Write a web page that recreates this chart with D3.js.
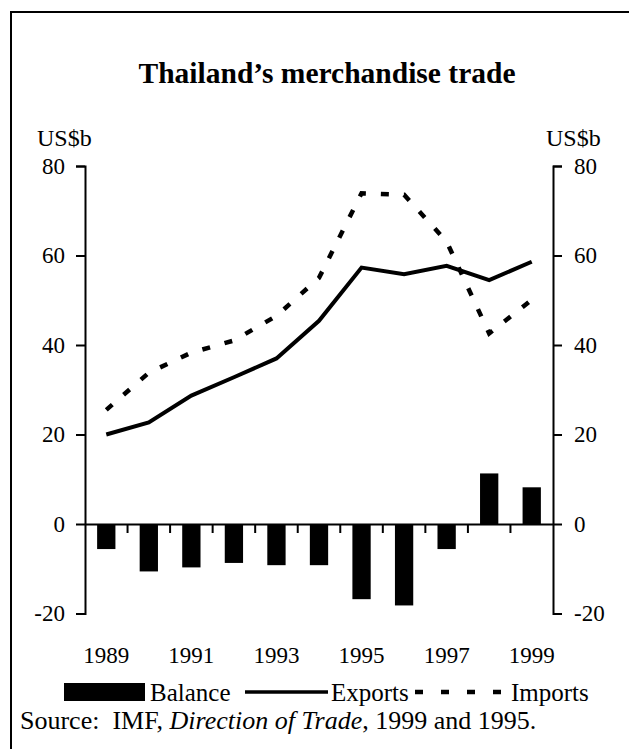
<!DOCTYPE html>
<html>
<head>
<meta charset="utf-8">
<script src="https://cdn.jsdelivr.net/npm/d3@7"></script>
<style>
  html, body { margin: 0; padding: 0; background: #fff; }
  svg { display: block; font-family: "Liberation Serif", "Times New Roman", serif; }
</style>
</head>
<body>
<svg id="chart" width="629" height="749"></svg>
<script>
// ---- data ----
const years = [1989, 1990, 1991, 1992, 1993, 1994, 1995, 1996, 1997, 1998, 1999];
const exportsVals = [20.0, 22.7, 28.7, 32.8, 37.0, 45.4, 57.3, 55.8, 57.7, 54.5, 58.6];
const importsVals = [25.5, 33.8, 38.3, 41.0, 46.5, 55.0, 73.9, 73.6, 63.1, 42.6, 50.1];
const balanceVals = [-5.6, -10.6, -9.7, -8.7, -9.2, -9.2, -16.8, -18.2, -5.6, 11.3, 8.2];
const yTicks = [-20, 0, 20, 40, 60, 80];
const xTickLabels = [1989, 1991, 1993, 1995, 1997, 1999];
const title = "Thailand\u2019s merchandise trade";
const unitLabel = "US$b";
const legendLabels = ["Balance", "Exports", "Imports"];

// ---- layout ----
const svg = d3.select("#chart");
const x0 = 85, x1 = 553;
const x = d3.scaleBand().domain(years).range([x0, x1]).padding(0);
const y = d3.scaleLinear().domain([-20, 80]).range([613.5, 166]);
const barW = x.bandwidth() * 0.43;
const serif = "'Liberation Serif', 'Times New Roman', serif";

// border
svg.append("path")
  .attr("d", "M11,760 L11,12 L640,12")
  .attr("fill", "none").attr("stroke", "#000").attr("stroke-width", 2);

// title
svg.append("text").attr("x", 327).attr("y", 83)
  .attr("text-anchor", "middle").attr("font-weight", "bold")
  .attr("font-size", 29.5).text(title);

// unit labels
svg.append("text").attr("x", 37).attr("y", 146).attr("font-size", 24).text(unitLabel);
svg.append("text").attr("x", 546).attr("y", 146).attr("font-size", 24).text(unitLabel);

// bars
svg.append("g").selectAll("rect").data(years).join("rect")
  .attr("x", (d) => x(d) + x.bandwidth() / 2 - barW / 2)
  .attr("width", barW)
  .attr("y", (d, i) => Math.min(y(0), y(balanceVals[i])))
  .attr("height", (d, i) => Math.abs(y(balanceVals[i]) - y(0)))
  .attr("fill", "#000");

// left axis
const fmt = d => String(d);
const leftAxis = d3.axisLeft(y).tickValues(yTicks).tickSize(9).tickPadding(11).tickFormat(fmt);
const gl = svg.append("g").attr("transform", `translate(${x0},0)`).call(leftAxis);
// right axis
const rightAxis = d3.axisRight(y).tickValues(yTicks).tickSize(9).tickPadding(12).tickFormat(fmt);
const gr = svg.append("g").attr("transform", `translate(${x1},0)`).call(rightAxis);
[gl, gr].forEach(g => {
  g.attr("font-family", serif);
  g.select(".domain").attr("stroke", "#000").attr("stroke-width", 2);
  g.selectAll(".tick line").attr("stroke", "#000").attr("stroke-width", 2);
  g.selectAll(".tick text").attr("font-size", 23).attr("fill", "#000");
});

// zero line with category boundary ticks
const xAxis = d3.axisBottom(x).tickValues([]).tickSizeOuter(0);
const gx = svg.append("g").attr("transform", `translate(0,${y(0)})`).call(xAxis);
gx.select(".domain").attr("stroke", "#000").attr("stroke-width", 2);
gx.selectAll("line.bt").data(years.slice(1)).join("line").attr("class", "bt")
  .attr("x1", d => x(d)).attr("x2", d => x(d))
  .attr("y1", 0).attr("y2", 9)
  .attr("stroke", "#000").attr("stroke-width", 2);

// x labels
svg.append("g").selectAll("text").data(xTickLabels).join("text")
  .attr("x", d => x(d) + x.bandwidth() / 2)
  .attr("y", 663).attr("text-anchor", "middle").attr("font-size", 23)
  .text(d => d);

// lines
const line = d3.line().x((d, i) => x(years[i]) + x.bandwidth() / 2).y(d => y(d));
svg.append("path").datum(exportsVals).attr("d", line)
  .attr("fill", "none").attr("stroke", "#000").attr("stroke-width", 4)
  .attr("stroke-linejoin", "miter");
svg.append("path").datum(importsVals).attr("d", line)
  .attr("fill", "none").attr("stroke", "#000").attr("stroke-width", 4.5)
  .attr("stroke-dasharray", "8,15").attr("stroke-linejoin", "miter");

// legend
const lg = svg.append("g").attr("font-size", 25);
lg.append("rect").attr("x", 64).attr("y", 683).attr("width", 81).attr("height", 18).attr("fill", "#000");
lg.append("text").attr("x", 150).attr("y", 701).text(legendLabels[0]);
lg.append("line").attr("x1", 245).attr("x2", 328).attr("y1", 692).attr("y2", 692)
  .attr("stroke", "#000").attr("stroke-width", 3.5);
lg.append("text").attr("x", 331).attr("y", 701).text(legendLabels[1]);
lg.append("line").attr("x1", 415).attr("x2", 503).attr("y1", 692).attr("y2", 692)
  .attr("stroke", "#000").attr("stroke-width", 4.5).attr("stroke-dasharray", "8,18");
lg.append("text").attr("x", 511).attr("y", 701).text(legendLabels[2]);

// source
const src = svg.append("text").attr("x", 20).attr("y", 729).attr("font-size", 26);
src.append("tspan").text("Source:\u00a0\u00a0IMF, ");
src.append("tspan").attr("font-style", "italic").text("Direction of Trade");
src.append("tspan").text(", 1999 and 1995.");
</script>
</body>
</html>
